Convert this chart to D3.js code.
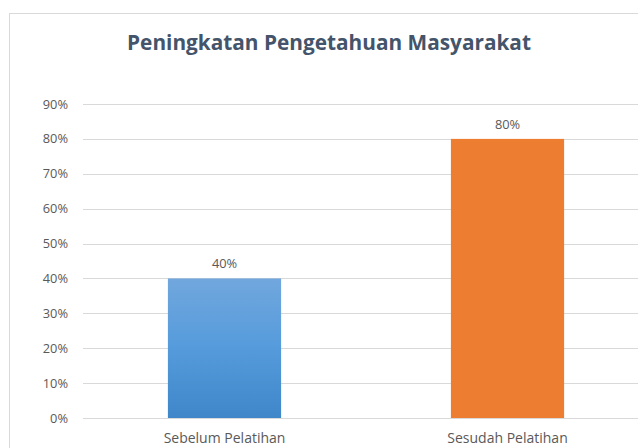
<!DOCTYPE html>
<html>
<head>
<meta charset="utf-8">
<script src="https://cdn.jsdelivr.net/npm/d3@7"></script>
<style>
  body { margin: 0; background: #fff; }
  svg { display: block; }
</style>
</head>
<body>
<svg></svg>
<script>
const w = 638, h = 448;
const svg = d3.select("svg").attr("width", w).attr("height", h);

const categories = ["Sebelum Pelatihan", "Sesudah Pelatihan"];
const values = [0.40, 0.80];
const tickValues = [0, 0.1, 0.2, 0.3, 0.4, 0.5, 0.6, 0.7, 0.8, 0.9];
const title = "Peningkatan Pengetahuan Masyarakat";

const margin = { top: 104, right: -11, bottom: 30, left: 83 };
const font = "'Open Sans', 'Noto Sans', sans-serif";

// chart area border
svg.append("rect")
    .attr("x", 9.5).attr("y", 13.5)
    .attr("width", w + 10).attr("height", h + 10)
    .attr("fill", "#fff").attr("stroke", "#d9d9d9");

const defs = svg.append("defs");
const grad = defs.append("linearGradient").attr("id", "blueGrad")
    .attr("x1", 0).attr("y1", 0).attr("x2", 0).attr("y2", 1);
grad.append("stop").attr("offset", "0%").attr("stop-color", "#71a7dd");
grad.append("stop").attr("offset", "50%").attr("stop-color", "#559bdc");
grad.append("stop").attr("offset", "100%").attr("stop-color", "#3f87c9");

const x = d3.scaleBand()
    .domain(categories)
    .range([margin.left, w - margin.right])
    .paddingInner(0.6).paddingOuter(0.3);
const y = d3.scaleLinear()
    .domain([0, 0.9])
    .range([418, margin.top]);

// gridlines
svg.append("g")
    .selectAll("line").data(tickValues).join("line")
    .attr("x1", margin.left).attr("x2", w)
    .attr("y1", d => Math.round(y(d)) + 0.5).attr("y2", d => Math.round(y(d)) + 0.5)
    .attr("stroke", "#d9d9d9").attr("stroke-width", 1);

// y axis labels
const yAxis = svg.append("g")
    .attr("transform", `translate(${margin.left - 15},0)`)
    .call(d3.axisLeft(y).tickValues(tickValues).tickFormat(d3.format(".0%")).tickSize(0));
yAxis.select(".domain").remove();
yAxis.selectAll("text")
    .attr("font-family", font).attr("font-size", 12.8)
    .attr("fill", "#595959").attr("x", 0);

// x axis labels
const xAxis = svg.append("g")
    .attr("transform", `translate(0,${y(0)})`)
    .call(d3.axisBottom(x).tickSize(0));
xAxis.select(".domain").remove();
xAxis.selectAll("text")
    .attr("font-family", font).attr("font-size", 14)
    .attr("fill", "#595959").attr("y", 25).attr("dy", 0);

const colors = ["url(#blueGrad)", "#ed7d31"];

svg.append("g")
    .selectAll("rect").data(values).join("rect")
    .attr("x", (d, i) => x(categories[i]))
    .attr("y", d => y(d))
    .attr("width", x.bandwidth())
    .attr("height", d => y(0) - y(d))
    .attr("fill", (d, i) => colors[i]);

svg.append("g")
    .selectAll("text").data(values).join("text")
    .attr("x", (d, i) => x(categories[i]) + x.bandwidth() / 2)
    .attr("y", d => y(d) - 10)
    .attr("text-anchor", "middle")
    .attr("font-family", font).attr("font-size", 12.8)
    .attr("fill", "#595959")
    .text(d => d3.format(".0%")(d));

svg.append("text")
    .attr("x", 329).attr("y", 50)
    .attr("text-anchor", "middle")
    .attr("font-family", font).attr("font-size", 20.8).attr("font-weight", "bold")
    .attr("fill", "#44546a")
    .text(title);
</script>
</body>
</html>
